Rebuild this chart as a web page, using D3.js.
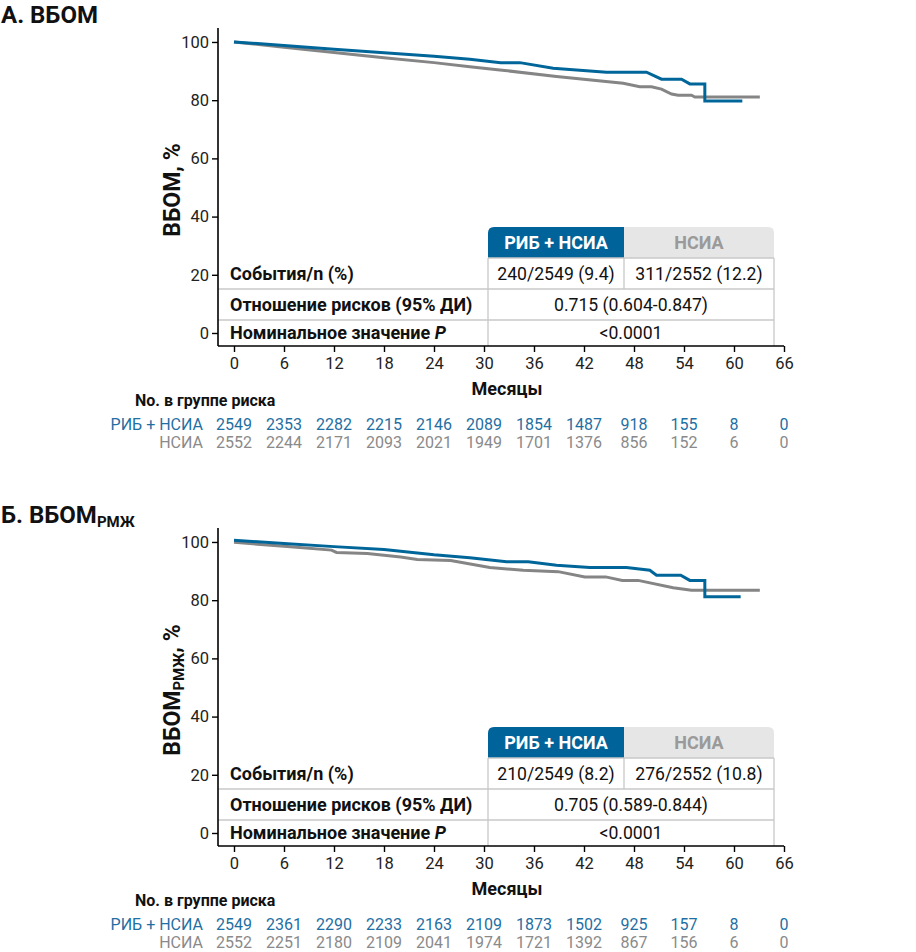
<!DOCTYPE html>
<html><head><meta charset="utf-8">
<script src="https://cdn.jsdelivr.net/npm/d3@7"></script>
<style>
body{margin:0;background:#fff;font-family:Roboto,"Noto Sans",sans-serif;}
svg text{font-family:Roboto,"Noto Sans",sans-serif;}
</style></head>
<body><svg id="c" width="916" height="952"></svg>
<script>
// ---------- DATA ----------
const monthTicks = [0,6,12,18,24,30,36,42,48,54,60,66];
const yTicks = [0,20,40,60,80,100];
const groups = ["РИБ + НСИА","НСИА"];

// Panel A: ВБОМ
const aRib = [[0,100],[6,98.8],[12,97.5],[18,96.3],[24,95.1],[28.3,94.1],[32,92.9],[34.3,92.9],[38.3,91.0],[44.7,89.6],[49.5,89.6],[51.3,87.2],[53.7,87.2],[54.7,85.6],[56.5,85.6],[56.5,79.7],[61,79.7]];
const aNsia = [[0,100],[6,98.2],[12,96.4],[18,94.6],[24,92.9],[28.3,91.5],[31.9,90.4],[38.7,88.1],[46.7,85.8],[48.7,84.6],[50.1,84.6],[51.3,83.8],[52.5,82.1],[53.3,81.7],[54.9,81.7],[55.3,81.1],[63.1,81.1]];
const aRiskRib = [2549,2353,2282,2215,2146,2089,1854,1487,918,155,8,0];
const aRiskNsia = [2552,2244,2171,2093,2021,1949,1701,1376,856,152,6,0];
const aEvents = ["240/2549 (9.4)","311/2552 (12.2)"];
const aHR = "0.715 (0.604-0.847)";
const aP = "<0.0001";

// Panel B: ВБОМ РМЖ
const bRib = [[0,100.6],[6,99.5],[12,98.4],[18,97.4],[24,95.6],[28.3,94.6],[32.7,93.2],[35.3,93.2],[38.7,92.0],[42.7,91.2],[47.1,91.2],[49.9,90.3],[50.7,88.6],[53.6,88.6],[54.7,86.8],[56.5,86.8],[56.5,81.2],[60.8,81.2]];
const bNsia = [[0,99.9],[6,98.5],[11.7,97.2],[12.3,96.4],[16,96.0],[20,94.8],[22,94.0],[26,93.6],[30.7,91.2],[34.7,90.3],[38.9,89.8],[42.1,88.0],[44.6,88.0],[46.6,86.8],[48.5,86.8],[52.7,84.3],[54.9,83.4],[63.1,83.4]];
const bRiskRib = [2549,2361,2290,2233,2163,2109,1873,1502,925,157,8,0];
const bRiskNsia = [2552,2251,2180,2109,2041,1974,1721,1392,867,156,6,0];
const bEvents = ["210/2549 (8.2)","276/2552 (10.8)"];
const bHR = "0.705 (0.589-0.844)";
const bP = "<0.0001";

const rowLabels = ["События/n (%)","Отношение рисков (95% ДИ)","Номинальное значение "];

// ---------- STYLE ----------
const BLUE = "#00669a", GRAY = "#858585", RISKBLUE = "#1f6fa3", RISKGRAY = "#8a8a8a";
const svg = d3.select("#c");

function panel(oy, title, sub, curves, riskRib, riskNsia, events, hr, p){
  const g = svg.append("g").attr("transform",`translate(0,${oy})`);
  const x = d3.scaleLinear().domain([-1.92,66]).range([218,784]);
  const y = d3.scaleLinear().domain([-4.47,104.8]).range([346,28]);

  // title
  const t = g.append("text").attr("x",1).attr("y",23).attr("font-size",24).attr("font-weight",700).attr("fill","#111").text(title);
  if(sub) t.append("tspan").attr("font-size",15).attr("dy",4).text(sub);

  // table (behind axes)
  const tb = g.append("g");
  const x0=218, x1=488, x2=624, x3=774;
  const hTop=227, r1=258, r2=289, r3=320, bot=346;
  const rad=6;
  tb.append("path").attr("fill","#00639a")
    .attr("d",`M${x1},${r1} V${hTop+rad} Q${x1},${hTop} ${x1+rad},${hTop} H${x2} V${r1} Z`);
  tb.append("path").attr("fill","#e6e6e6")
    .attr("d",`M${x2},${r1} V${hTop} H${x3-rad} Q${x3},${hTop} ${x3},${hTop+rad} V${r1} Z`);
  tb.append("text").attr("x",(x1+x2)/2).attr("y",(hTop+r1)/2+6).attr("text-anchor","middle")
    .attr("font-size",18).attr("font-weight",700).attr("fill","#fff").text(groups[0]);
  tb.append("text").attr("x",(x2+x3)/2).attr("y",(hTop+r1)/2+6).attr("text-anchor","middle")
    .attr("font-size",18).attr("font-weight",700).attr("fill","#9a9a9a").text(groups[1]);
  const lc="#c8c8c8";
  [[x0,r2,x3,r2],[x0,r3,x3,r3],[x1,r1,x1,bot],[x2,r1,x2,r2],[x3,r1,x3,bot],[x1,r1,x3,r1]].forEach(l=>{
    tb.append("line").attr("x1",l[0]).attr("y1",l[1]).attr("x2",l[2]).attr("y2",l[3]).attr("stroke",lc).attr("stroke-width",1.3);
  });
  const rowY=[(r1+r2)/2+6,(r2+r3)/2+6,(r3+bot)/2+6];
  rowLabels.forEach((s,i)=>{
    const tx = tb.append("text").attr("x",230).attr("y",rowY[i]).attr("font-size",18).attr("font-weight",700).attr("fill","#111").text(s);
    if(i===2) tx.append("tspan").attr("font-style","italic").text("P");
  });
  const fs=17.6;
  tb.append("text").attr("x",(x1+x2)/2).attr("y",rowY[0]).attr("text-anchor","middle").attr("font-size",fs).attr("fill","#111").text(events[0]);
  tb.append("text").attr("x",(x2+x3)/2).attr("y",rowY[0]).attr("text-anchor","middle").attr("font-size",fs).attr("fill","#111").text(events[1]);
  tb.append("text").attr("x",(x1+x3)/2).attr("y",rowY[1]).attr("text-anchor","middle").attr("font-size",fs).attr("fill","#111").text(hr);
  tb.append("text").attr("x",(x1+x3)/2).attr("y",rowY[2]).attr("text-anchor","middle").attr("font-size",fs).attr("fill","#111").text(p);

  // curves
  const line = d3.line().x(d=>x(d[0])).y(d=>y(d[1]));
  g.append("path").datum(curves[1]).attr("d",line).attr("fill","none").attr("stroke",GRAY).attr("stroke-width",3);
  g.append("path").datum(curves[0]).attr("d",line).attr("fill","none").attr("stroke",BLUE).attr("stroke-width",3);

  // axes
  const ya = g.append("g").attr("transform","translate(218,0)").call(d3.axisLeft(y).tickValues(yTicks).tickSize(6).tickPadding(3));
  const xa = g.append("g").attr("transform","translate(0,346)").call(d3.axisBottom(x).tickValues(monthTicks).tickSize(6).tickPadding(5));
  [ya,xa].forEach(a=>{
    a.select(".domain").attr("stroke","#000").attr("stroke-width",1.6);
    a.selectAll(".tick line").attr("stroke","#000").attr("stroke-width",1.4);
    a.selectAll(".tick text").attr("font-size",16.5).attr("fill","#222").attr("font-family","Roboto, sans-serif");
  });
  ya.select(".domain").attr("d",`M0,28V346`);
  xa.select(".domain").attr("d",`M218,0H784`);

  // y label
  const yl = g.append("text").attr("transform","translate(180,190) rotate(-90)").attr("text-anchor","middle")
    .attr("font-size",23).attr("font-weight",700).attr("fill","#111").text("ВБОМ");
  if(sub){
    yl.append("tspan").attr("font-size",15).attr("dy",4).text(sub);
    yl.append("tspan").attr("dy",-4).text(", %");
  } else yl.append("tspan").text(", %");

  // x label
  g.append("text").attr("x",507).attr("y",395).attr("text-anchor","middle").attr("font-size",18).attr("font-weight",700).attr("fill","#111").text("Месяцы");

  // risk table
  g.append("text").attr("x",135).attr("y",406).attr("font-size",16).attr("font-weight",700).attr("fill","#111").text("No. в группе риска");
  g.append("text").attr("x",203).attr("y",430).attr("text-anchor","end").attr("font-size",16).attr("fill",RISKBLUE).text(groups[0]);
  g.append("text").attr("x",203).attr("y",448).attr("text-anchor","end").attr("font-size",16).attr("fill",RISKGRAY).text(groups[1]);
  g.selectAll(".rr").data(riskRib).join("text").attr("x",(d,i)=>x(monthTicks[i])).attr("y",430)
    .attr("text-anchor","middle").attr("font-size",16).attr("fill",RISKBLUE).text(d=>d);
  g.selectAll(".rn").data(riskNsia).join("text").attr("x",(d,i)=>x(monthTicks[i])).attr("y",448)
    .attr("text-anchor","middle").attr("font-size",16).attr("fill",RISKGRAY).text(d=>d);
}

panel(0,"А. ВБОМ",null,[aRib,aNsia],aRiskRib,aRiskNsia,aEvents,aHR,aP);
panel(500,"Б. ВБОМ","РМЖ",[bRib,bNsia],bRiskRib,bRiskNsia,bEvents,bHR,bP);
</script></body></html>
